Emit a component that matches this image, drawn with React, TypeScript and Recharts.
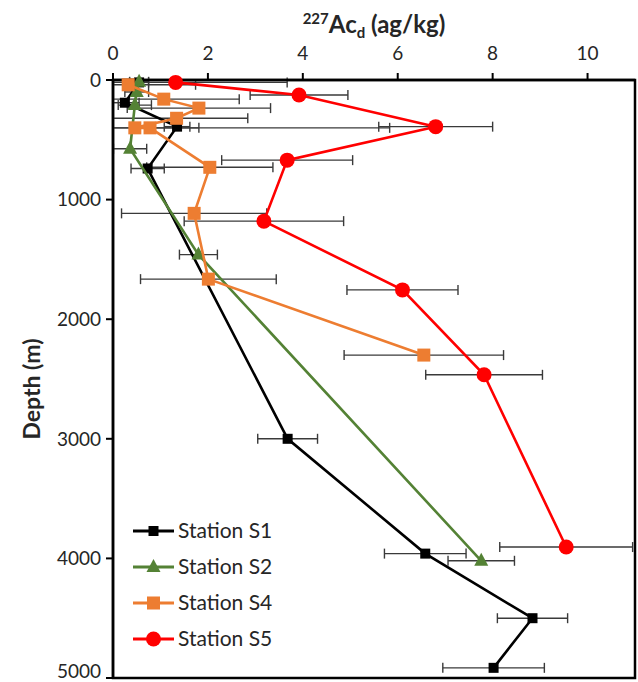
import React from 'react';
import { ScatterChart, Scatter, XAxis, YAxis, ErrorBar, Legend, ReferenceArea } from 'recharts';

// 227Ac profiles (depth in m, activity in ag/kg, +/- error)
const s1Depth = [20, 190, 390, 740, 3000, 3960, 4500, 4915];
const s1Ac = [0.55, 0.25, 1.35, 0.73, 3.68, 6.58, 8.84, 8.02];
const s1Err = [0.2, 0.3, 0.27, 0.35, 0.63, 0.86, 0.74, 1.07];

const s2Depth = [15, 100, 210, 575, 1460, 4020];
const s2Ac = [0.55, 0.5, 0.46, 0.36, 1.8, 7.76];
const s2Err = [0.2, 0.25, 0.35, 0.35, 0.4, 0.7];

const s4Depth = [40, 160, 235, 320, 400, 400, 730, 1115, 1665, 2300];
const s4Ac = [0.32, 1.07, 1.81, 1.34, 0.46, 0.78, 2.04, 1.71, 2.01, 6.55];
const s4Err = [1.42, 1.59, 1.51, 1.5, 1.35, 5.05, 1.33, 1.53, 1.43, 1.68];

const s5Depth = [20, 125, 390, 670, 1180, 1755, 2465, 3905];
const s5Ac = [1.32, 3.92, 6.8, 3.67, 3.18, 6.1, 7.82, 9.55];
const s5Err = [2.35, 1.03, 1.2, 1.38, 1.68, 1.17, 1.23, 1.4];

const acTicks = [0, 2, 4, 6, 8, 10];
const depthTicks = [0, 1000, 2000, 3000, 4000, 5000];

const FONT = 'Lato, "Open Sans", sans-serif';
const TEXT = '#262626';

// excel clips the bars at the axis, so the low side never goes below 0
const profile = (depth: number[], ac: number[], err: number[]) =>
  depth.map((d, i) => ({ d, v: ac[i], err: [Math.min(err[i], ac[i]), err[i]] }));

const marker = (kind: string, cx: number, cy: number, color: string) => {
  if (kind === 'circle') return <circle cx={cx} cy={cy} r={7.5} fill={color} />;
  if (kind === 'triangle')
    return <polygon points={`${cx},${cy - 8} ${cx + 7},${cy + 5} ${cx - 7},${cy + 5}`} fill={color} />;
  const s = kind === 'big' ? 13 : 10;
  return <rect x={cx - s / 2} y={cy - s / 2} width={s} height={s} fill={color} />;
};

const series = [
  { name: 'Station S1', color: '#000000', kind: 'square', data: profile(s1Depth, s1Ac, s1Err) },
  { name: 'Station S2', color: '#548235', kind: 'triangle', data: profile(s2Depth, s2Ac, s2Err) },
  { name: 'Station S4', color: '#ED7D31', kind: 'big', data: profile(s4Depth, s4Ac, s4Err) },
  { name: 'Station S5', color: '#FF0000', kind: 'circle', data: profile(s5Depth, s5Ac, s5Err) },
];

const LegendBox = () => (
  <svg width={220} height={160} style={{ overflow: 'visible' }}>
    {series.map((s, i) => (
      <g key={s.name} transform={`translate(0, ${14 + i * 36})`}>
        <line x1={0} x2={41} y1={0} y2={0} stroke={s.color} strokeWidth={3} />
        {marker(s.kind, 20.5, 0, s.color)}
        <text x={45} y={7} fontSize={21} fill={TEXT} fontFamily={FONT}>{s.name}</text>
      </g>
    ))}
  </svg>
);

const XTitle = (props: any) => {
  const { viewBox } = props;
  const cx = viewBox.x + viewBox.width / 2;
  return (
    <text x={cx} y={viewBox.y - 17} textAnchor="middle" fontSize={24} fontWeight="bold" fill={TEXT} fontFamily={FONT}>
      <tspan fontSize={15} dy={-9}>227</tspan>
      <tspan dy={9}>Ac</tspan>
      <tspan fontSize={15} dy={5}>d</tspan>
      <tspan dy={-5}> (ag/kg)</tspan>
    </text>
  );
};

const YTitle = (props: any) => {
  const { viewBox } = props;
  const x = viewBox.x - 22;
  const y = viewBox.y + viewBox.height / 2 + 10;
  return (
    <text x={x} y={y} transform={`rotate(-90, ${x}, ${y})`} textAnchor="middle" dominantBaseline="central"
      fontSize={23} fontWeight="bold" fill={TEXT} fontFamily={FONT}>
      Depth (m)
    </text>
  );
};

const App: React.FC = () => (
  <div style={{ position: 'absolute', left: 0, top: 0 }}>
    <ScatterChart width={638} height={682} margin={{ top: 50, right: 3, bottom: 4, left: 53 }}>
      <XAxis
        type="number"
        dataKey="v"
        orientation="top"
        domain={[0, 11]}
        ticks={acTicks}
        height={30}
        tickSize={7}
        tickMargin={13}
        axisLine={{ stroke: '#000', strokeWidth: 2.5 }}
        tickLine={{ stroke: '#000', strokeWidth: 2 }}
        tick={{ fill: TEXT, fontSize: 19, fontFamily: FONT }}
        label={<XTitle />}
      />
      <YAxis
        type="number"
        dataKey="d"
        reversed
        domain={[0, 5000]}
        ticks={depthTicks}
        width={60}
        tickSize={7}
        tickMargin={5}
        axisLine={{ stroke: '#000', strokeWidth: 2.5 }}
        tickLine={{ stroke: '#000', strokeWidth: 2 }}
        tick={{ fill: TEXT, fontSize: 19, fontFamily: FONT }}
        label={<YTitle />}
      />
      <ReferenceArea x1={0} x2={11} y1={0} y2={5000} fill="none" stroke="#000" strokeWidth={2.5} ifOverflow="visible" />
      {series.map((s) => (
        <Scatter
          key={s.name}
          name={s.name}
          data={s.data}
          fill={s.color}
          line={{ stroke: s.color, strokeWidth: 2.6 }}
          lineType="joint"
          shape={(p: any) => marker(s.kind, p.cx, p.cy, s.color)}
          isAnimationActive={false}
        >
          <ErrorBar dataKey="err" direction="x" width={5} stroke="#3a3a3a" strokeWidth={1.4} isAnimationActive={false} />
        </Scatter>
      ))}
      <Legend
        layout="horizontal"
        verticalAlign="middle"
        align="center"
        content={<LegendBox />}
        wrapperStyle={{ left: 133, top: 517, width: 220, height: 160 }}
      />
    </ScatterChart>
  </div>
);

export default App;
